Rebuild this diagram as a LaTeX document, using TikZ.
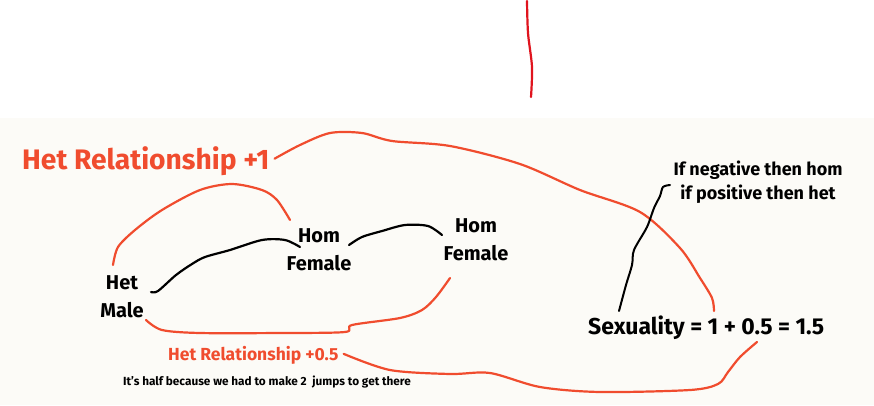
\documentclass[tikz,border=0pt]{standalone}
\usepackage{fontspec}
\setmainfont{Fira Sans}
\usetikzlibrary{positioning,calc}
\definecolor{penorange}{RGB}{240,76,46}
\definecolor{penred}{RGB}{224,20,30}
\definecolor{paper}{RGB}{252,251,247}
\tikzset{
  lbl/.style    = {inner sep=0pt, font=\bfseries},
  big/.style    = {lbl, font=\fontsize{23}{28}\selectfont\bfseries},
  mid/.style    = {lbl, align=center, font=\fontsize{20}{28}\selectfont\bfseries},
  small/.style  = {lbl, font=\fontsize{11.8}{14}\selectfont\bfseries},
  stroke/.style = {line width=2.2pt, line cap=round, line join=round},
  ink/.style    = {stroke, draw=black},
  pen/.style    = {stroke, draw=penorange},
}

\begin{document}
\begin{tikzpicture}[x=1pt, y=-1pt]

% --- page ---
\useasboundingbox (0,0) rectangle (874,405);
\fill[white] (0,0) rectangle (874,118);
\fill[paper] (0,118) rectangle (874,405);

% --- labels ---
\node[big, text=penorange, font=\fontsize{28.2}{30}\selectfont\bfseries, anchor=base west]
     (hetrelA) at (22,169) {Het Relationship +1};
\node[mid] (homA) at (319,250) {Hom\\Female};
\node[mid] (hetmale) at (122,297) {Het\\Male};
\node[mid] (homB) at (476,240) {Hom\\Female};
\node[lbl, align=center, font=\fontsize{18}{24.5}\selectfont\bfseries] (rule) at (758,182)
     {If negative then hom\\if positive then het};
\node[big, anchor=base west] (sex) at (588,334) {Sexuality = 1 + 0.5 = 1.5};
\node[lbl, text=penorange, font=\fontsize{17.5}{20}\selectfont\bfseries, anchor=base west]
     (hetrelB) at (168,360) {Het Relationship +0.5};
\node[small, anchor=base west] (why) at (123,385)
     {It's half because we had to make 2\ \ jumps to get there};

% --- free ends ---
\coordinate (topA) at (527,1);
\coordinate (topB) at (531,97);
\coordinate (arcA) at (113,265);
\coordinate (arcB) at (290,220);
\coordinate (lowA) at (146,320);
\coordinate (lowB) at (450,278);
\coordinate (bigB) at (714,311);
\coordinate (botB) at (757,342);
\coordinate (tick) at (670,185);

% --- strokes ---
\draw[stroke, draw=penred] plot[smooth] coordinates
  {(topA) (528,33) (532,67) (topB)};

\draw[pen] plot[smooth] coordinates
  {($(hetrelA.east)+(5,-2)$) (300,145) (330,133) (362,133) (392,141) (450,146)
   (520,164) (580,190) (640,212) (680,248) (700,278) (712,298) (bigB)};

\draw[pen] plot[smooth] coordinates
  {(arcA) (118,247) (135,230) (162,210) (200,190) (232,184) (262,190) (277,200) (arcB)};

\draw[ink] plot[smooth] coordinates
  {(151,292) (158,291) (176,275) (192,264) (205,257) (230,250) (262,240) (285,240) (300,247)};

\draw[ink] plot[smooth] coordinates
  {(349,245) (362,237) (382,231) (405,225) (428,226) (442,235)};

\draw[pen] plot[smooth] coordinates
  {(lowA) (162,330) (200,333) (280,333) (345,332) (352,325) (400,318) (422,310) (436,297) (lowB)};

\draw[pen] plot[smooth] coordinates
  {($(hetrelB.east)+(5,-1)$) (390,370) (450,374) (490,373) (540,387) (600,392) (690,390) (718,384)
   (728,372) (740,357) (botB)};

\draw[ink, line width=2pt] plot[smooth] coordinates
  {(619,311) (626,285) (632,265) (634,250) (647,227) (654,208) (660,196) (663,187) (tick)};

\end{tikzpicture}
\end{document}
